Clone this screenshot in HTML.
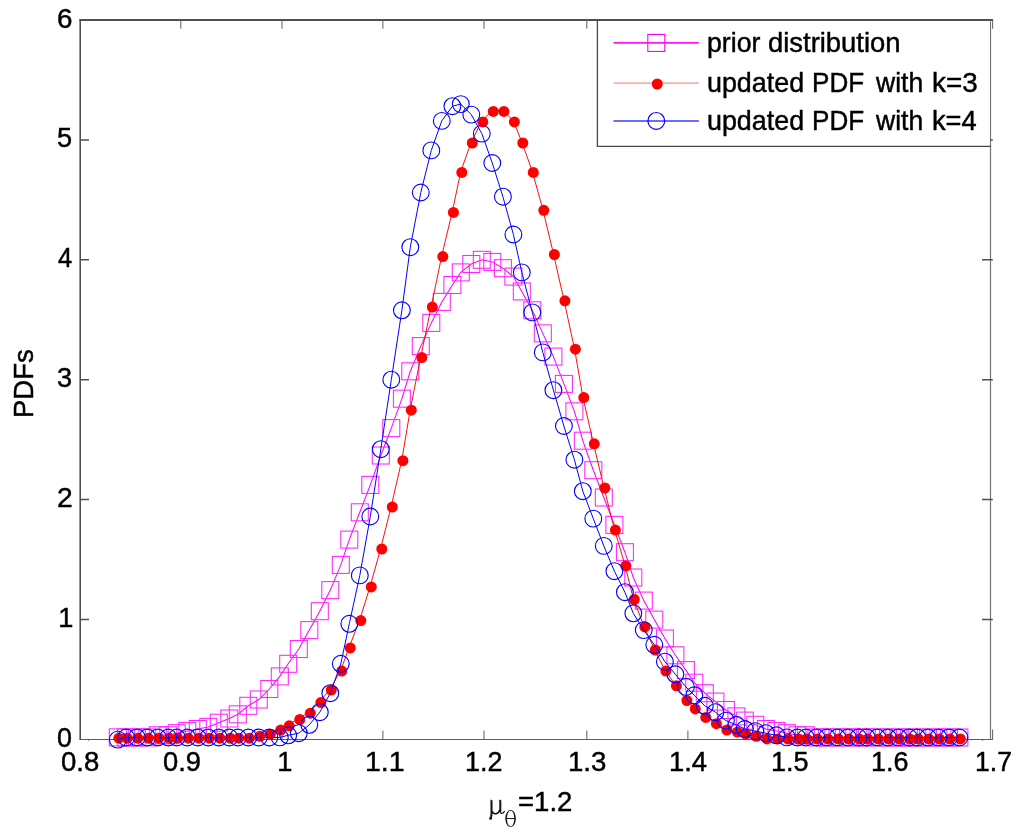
<!DOCTYPE html>
<html><head><meta charset="utf-8"><title>PDFs</title>
<style>
html,body{margin:0;padding:0;background:#fff;}
body{width:1024px;height:840px;position:relative;overflow:hidden;}
.t{position:absolute;font-family:"Liberation Sans",sans-serif;font-size:27.2px;line-height:1;color:#000;white-space:nowrap;-webkit-text-stroke:0.45px #000;font-kerning:none;font-variant-ligatures:none;transform-origin:0 0;}
.s{position:absolute;font-family:"Liberation Serif",serif;line-height:1;color:#1a1a1a;white-space:nowrap;}
</style></head><body>
<svg width="1024" height="840" viewBox="0 0 1024 840" style="position:absolute;left:0;top:0">
<path d="M79.4,20.0H993.1" stroke="#4f4f4f" stroke-width="2" fill="none"/>
<path d="M80.2,19.2V740" stroke="#505050" stroke-width="1.6" fill="none"/>
<path d="M79.6,739.45H993.1" stroke="#5c5c5c" stroke-width="1.15" fill="none"/>
<path d="M990.5,20V739.9" stroke="#747474" stroke-width="1.2" fill="none"/>
<path d="M80.2,619.5H89.0M982.0,619.5H992.8M80.2,499.6H89.0M982.0,499.6H992.8M80.2,379.7H89.0M982.0,379.7H992.8M80.2,259.8H89.0M982.0,259.8H992.8M80.2,139.9H89.0M982.0,139.9H992.8" stroke="#505050" stroke-width="1.5" fill="none"/>
<path d="M180.8,739.4v-8.8M180.8,20.0v8.8M282.0,739.4v-8.8M282.0,20.0v8.8M382.9,739.4v-8.8M382.9,20.0v8.8M484.0,739.4v-8.8M484.0,20.0v8.8M586.8,739.4v-8.8M586.8,20.0v8.8M687.9,739.4v-8.8M687.9,20.0v8.8M789.5,739.4v-8.8M789.5,20.0v8.8M891.0,739.4v-8.8M891.0,20.0v8.8M992.6,739.4v-10.0M992.6,20.0v8.8M88.55,739.4v1.4M982.45,739.4v1.4" stroke="#686868" stroke-width="1.05" fill="none"/>
<polyline points="117.8,737.4 126.2,737.4 136.8,737.4 147.3,737.4 157.8,735.3 168.3,735.3 176.7,733.2 187.3,731.1 197.8,729.0 208.3,726.9 218.8,722.7 229.3,718.5 237.8,714.3 248.3,705.8 258.8,699.5 269.3,689.0 279.8,676.4 288.2,663.8 298.8,649.0 309.3,630.1 319.8,611.2 330.3,590.1 340.8,564.9 349.3,539.6 359.8,512.3 370.3,484.9 380.8,455.5 391.3,428.1 401.9,398.7 410.3,371.3 420.8,346.1 431.3,322.9 441.8,301.9 452.4,285.0 460.8,272.4 471.3,264.0 481.8,259.8 492.3,261.9 502.9,268.2 513.4,276.6 521.8,291.4 532.3,310.3 542.8,333.4 553.4,356.6 563.9,383.9 574.4,411.3 582.8,440.7 593.3,470.2 603.8,497.5 614.4,524.9 624.9,552.2 633.3,577.5 643.8,600.6 654.3,619.6 664.9,638.5 675.4,655.3 685.9,670.1 694.3,682.7 704.8,693.2 715.4,701.6 725.9,710.0 736.4,716.4 744.8,720.6 755.3,724.8 765.9,729.0 776.4,731.1 786.9,733.2 797.4,735.3 805.8,735.3 816.4,737.4 826.9,737.4 837.4,737.4 847.9,737.4 858.4,737.4 866.8,737.4 877.4,737.4 887.9,737.5 898.4,737.5 908.9,737.5 917.3,737.5 927.9,737.5 938.4,737.5 948.9,737.5 959.4,737.5" fill="none" stroke="#ff00ff" stroke-width="1.05"/>
<g fill="none" stroke="#ff24ff" stroke-width="1.05">
<rect x="109.3" y="728.9" width="17.0" height="17.0"/>
<rect x="117.7" y="728.9" width="17.0" height="17.0"/>
<rect x="128.3" y="728.9" width="17.0" height="17.0"/>
<rect x="138.8" y="728.9" width="17.0" height="17.0"/>
<rect x="149.3" y="726.8" width="17.0" height="17.0"/>
<rect x="159.8" y="726.8" width="17.0" height="17.0"/>
<rect x="168.2" y="724.7" width="17.0" height="17.0"/>
<rect x="178.8" y="722.6" width="17.0" height="17.0"/>
<rect x="189.3" y="720.5" width="17.0" height="17.0"/>
<rect x="199.8" y="718.4" width="17.0" height="17.0"/>
<rect x="210.3" y="714.2" width="17.0" height="17.0"/>
<rect x="220.8" y="710.0" width="17.0" height="17.0"/>
<rect x="229.3" y="705.8" width="17.0" height="17.0"/>
<rect x="239.8" y="697.3" width="17.0" height="17.0"/>
<rect x="250.3" y="691.0" width="17.0" height="17.0"/>
<rect x="260.8" y="680.5" width="17.0" height="17.0"/>
<rect x="271.3" y="667.9" width="17.0" height="17.0"/>
<rect x="279.7" y="655.3" width="17.0" height="17.0"/>
<rect x="290.3" y="640.5" width="17.0" height="17.0"/>
<rect x="300.8" y="621.6" width="17.0" height="17.0"/>
<rect x="311.3" y="602.7" width="17.0" height="17.0"/>
<rect x="321.8" y="581.6" width="17.0" height="17.0"/>
<rect x="332.3" y="556.4" width="17.0" height="17.0"/>
<rect x="340.8" y="531.1" width="17.0" height="17.0"/>
<rect x="351.3" y="503.8" width="17.0" height="17.0"/>
<rect x="361.8" y="476.4" width="17.0" height="17.0"/>
<rect x="372.3" y="447.0" width="17.0" height="17.0"/>
<rect x="382.8" y="419.6" width="17.0" height="17.0"/>
<rect x="393.4" y="390.2" width="17.0" height="17.0"/>
<rect x="401.8" y="362.8" width="17.0" height="17.0"/>
<rect x="412.3" y="337.6" width="17.0" height="17.0"/>
<rect x="422.8" y="314.4" width="17.0" height="17.0"/>
<rect x="433.3" y="293.4" width="17.0" height="17.0"/>
<rect x="443.9" y="276.5" width="17.0" height="17.0"/>
<rect x="452.3" y="263.9" width="17.0" height="17.0"/>
<rect x="462.8" y="255.5" width="17.0" height="17.0"/>
<rect x="473.3" y="251.3" width="17.0" height="17.0"/>
<rect x="483.8" y="253.4" width="17.0" height="17.0"/>
<rect x="494.4" y="259.7" width="17.0" height="17.0"/>
<rect x="504.9" y="268.1" width="17.0" height="17.0"/>
<rect x="513.3" y="282.9" width="17.0" height="17.0"/>
<rect x="523.8" y="301.8" width="17.0" height="17.0"/>
<rect x="534.3" y="324.9" width="17.0" height="17.0"/>
<rect x="544.9" y="348.1" width="17.0" height="17.0"/>
<rect x="555.4" y="375.4" width="17.0" height="17.0"/>
<rect x="565.9" y="402.8" width="17.0" height="17.0"/>
<rect x="574.3" y="432.2" width="17.0" height="17.0"/>
<rect x="584.8" y="461.7" width="17.0" height="17.0"/>
<rect x="595.3" y="489.0" width="17.0" height="17.0"/>
<rect x="605.9" y="516.4" width="17.0" height="17.0"/>
<rect x="616.4" y="543.7" width="17.0" height="17.0"/>
<rect x="624.8" y="569.0" width="17.0" height="17.0"/>
<rect x="635.3" y="592.1" width="17.0" height="17.0"/>
<rect x="645.8" y="611.1" width="17.0" height="17.0"/>
<rect x="656.4" y="630.0" width="17.0" height="17.0"/>
<rect x="666.9" y="646.8" width="17.0" height="17.0"/>
<rect x="677.4" y="661.6" width="17.0" height="17.0"/>
<rect x="685.8" y="674.2" width="17.0" height="17.0"/>
<rect x="696.3" y="684.7" width="17.0" height="17.0"/>
<rect x="706.9" y="693.1" width="17.0" height="17.0"/>
<rect x="717.4" y="701.5" width="17.0" height="17.0"/>
<rect x="727.9" y="707.9" width="17.0" height="17.0"/>
<rect x="736.3" y="712.1" width="17.0" height="17.0"/>
<rect x="746.8" y="716.3" width="17.0" height="17.0"/>
<rect x="757.4" y="720.5" width="17.0" height="17.0"/>
<rect x="767.9" y="722.6" width="17.0" height="17.0"/>
<rect x="778.4" y="724.7" width="17.0" height="17.0"/>
<rect x="788.9" y="726.8" width="17.0" height="17.0"/>
<rect x="797.3" y="726.8" width="17.0" height="17.0"/>
<rect x="807.9" y="728.9" width="17.0" height="17.0"/>
<rect x="818.4" y="728.9" width="17.0" height="17.0"/>
<rect x="828.9" y="728.9" width="17.0" height="17.0"/>
<rect x="839.4" y="728.9" width="17.0" height="17.0"/>
<rect x="849.9" y="728.9" width="17.0" height="17.0"/>
<rect x="858.3" y="728.9" width="17.0" height="17.0"/>
<rect x="868.9" y="728.9" width="17.0" height="17.0"/>
<rect x="879.4" y="729.0" width="17.0" height="17.0"/>
<rect x="889.9" y="729.0" width="17.0" height="17.0"/>
<rect x="900.4" y="729.0" width="17.0" height="17.0"/>
<rect x="908.8" y="729.0" width="17.0" height="17.0"/>
<rect x="919.4" y="729.0" width="17.0" height="17.0"/>
<rect x="929.9" y="729.0" width="17.0" height="17.0"/>
<rect x="940.4" y="729.0" width="17.0" height="17.0"/>
<rect x="950.9" y="729.0" width="17.0" height="17.0"/>
</g>
<polyline points="117.8,737.5 126.2,737.5 136.8,737.5 147.3,737.5 157.8,737.5 168.3,737.5 176.7,737.5 187.3,737.5 197.8,737.5 208.3,737.5 218.8,737.5 229.3,737.5 237.8,737.5 248.3,737.5 258.8,735.3 269.3,733.2 279.8,729.0 288.2,724.8 298.8,718.5 309.3,712.2 319.8,701.6 330.3,689.0 340.8,670.1 349.3,646.9 359.8,619.6 370.3,585.9 380.8,548.0 391.3,506.0 401.9,459.7 410.3,409.2 420.8,356.6 431.3,306.1 441.8,255.6 452.4,211.4 460.8,171.4 471.3,142.0 481.8,120.9 492.3,110.4 502.9,110.4 513.4,120.9 521.8,142.0 532.3,171.4 542.8,209.3 553.4,253.5 563.9,299.8 574.4,348.2 582.8,396.6 593.3,442.8 603.8,487.0 614.4,529.1 624.9,564.9 633.3,598.5 643.8,625.9 654.3,649.0 664.9,670.1 675.4,684.8 685.9,699.5 694.3,707.9 704.8,716.4 715.4,722.7 725.9,729.0 736.4,731.1 744.8,733.2 755.3,735.3 765.9,737.5 776.4,737.5 786.9,737.5 797.4,737.5 805.8,737.5 816.4,737.5 826.9,737.5 837.4,737.5 847.9,737.5 858.4,737.5 866.8,737.5 877.4,737.5 887.9,737.5 898.4,737.5 908.9,737.5 917.3,737.5 927.9,737.5 938.4,737.5 948.9,737.5 959.4,737.5" fill="none" stroke="#ff0000" stroke-width="0.95"/>
<g fill="#ff0000">
<circle cx="118.8" cy="738.2" r="5.5"/>
<circle cx="127.2" cy="738.2" r="5.5"/>
<circle cx="137.8" cy="738.2" r="5.5"/>
<circle cx="148.3" cy="738.2" r="5.5"/>
<circle cx="158.8" cy="738.2" r="5.5"/>
<circle cx="169.3" cy="738.2" r="5.5"/>
<circle cx="177.7" cy="738.2" r="5.5"/>
<circle cx="188.3" cy="738.2" r="5.5"/>
<circle cx="198.8" cy="738.2" r="5.5"/>
<circle cx="209.3" cy="738.2" r="5.5"/>
<circle cx="219.8" cy="738.2" r="5.5"/>
<circle cx="230.3" cy="738.2" r="5.5"/>
<circle cx="238.8" cy="738.2" r="5.5"/>
<circle cx="249.3" cy="738.2" r="5.5"/>
<circle cx="259.8" cy="736.3" r="5.5"/>
<circle cx="270.3" cy="734.2" r="5.5"/>
<circle cx="280.8" cy="730.0" r="5.5"/>
<circle cx="289.2" cy="725.8" r="5.5"/>
<circle cx="299.8" cy="719.5" r="5.5"/>
<circle cx="310.3" cy="713.2" r="5.5"/>
<circle cx="320.8" cy="702.6" r="5.5"/>
<circle cx="331.3" cy="690.0" r="5.5"/>
<circle cx="341.8" cy="671.1" r="5.5"/>
<circle cx="350.3" cy="647.9" r="5.5"/>
<circle cx="360.8" cy="620.6" r="5.5"/>
<circle cx="371.3" cy="586.9" r="5.5"/>
<circle cx="381.8" cy="549.0" r="5.5"/>
<circle cx="392.3" cy="507.0" r="5.5"/>
<circle cx="402.9" cy="460.7" r="5.5"/>
<circle cx="411.3" cy="410.2" r="5.5"/>
<circle cx="421.8" cy="357.6" r="5.5"/>
<circle cx="432.3" cy="307.1" r="5.5"/>
<circle cx="442.8" cy="256.6" r="5.5"/>
<circle cx="453.4" cy="212.4" r="5.5"/>
<circle cx="461.8" cy="172.4" r="5.5"/>
<circle cx="472.3" cy="143.0" r="5.5"/>
<circle cx="482.8" cy="121.9" r="5.5"/>
<circle cx="493.3" cy="111.4" r="5.5"/>
<circle cx="503.9" cy="111.4" r="5.5"/>
<circle cx="514.4" cy="121.9" r="5.5"/>
<circle cx="522.8" cy="143.0" r="5.5"/>
<circle cx="533.3" cy="172.4" r="5.5"/>
<circle cx="543.8" cy="210.3" r="5.5"/>
<circle cx="554.4" cy="254.5" r="5.5"/>
<circle cx="564.9" cy="300.8" r="5.5"/>
<circle cx="575.4" cy="349.2" r="5.5"/>
<circle cx="583.8" cy="397.6" r="5.5"/>
<circle cx="594.3" cy="443.8" r="5.5"/>
<circle cx="604.8" cy="488.0" r="5.5"/>
<circle cx="615.4" cy="530.1" r="5.5"/>
<circle cx="625.9" cy="565.9" r="5.5"/>
<circle cx="634.3" cy="599.5" r="5.5"/>
<circle cx="644.8" cy="626.9" r="5.5"/>
<circle cx="655.3" cy="650.0" r="5.5"/>
<circle cx="665.9" cy="671.1" r="5.5"/>
<circle cx="676.4" cy="685.8" r="5.5"/>
<circle cx="686.9" cy="700.5" r="5.5"/>
<circle cx="695.3" cy="708.9" r="5.5"/>
<circle cx="705.8" cy="717.4" r="5.5"/>
<circle cx="716.4" cy="723.7" r="5.5"/>
<circle cx="726.9" cy="730.0" r="5.5"/>
<circle cx="737.4" cy="732.1" r="5.5"/>
<circle cx="745.8" cy="734.2" r="5.5"/>
<circle cx="756.3" cy="736.3" r="5.5"/>
<circle cx="766.9" cy="738.9" r="5.5"/>
<circle cx="777.4" cy="738.9" r="5.5"/>
<circle cx="787.9" cy="738.9" r="5.5"/>
<circle cx="798.4" cy="738.9" r="5.5"/>
<circle cx="806.8" cy="738.9" r="5.5"/>
<circle cx="817.4" cy="738.9" r="5.5"/>
<circle cx="827.9" cy="738.9" r="5.5"/>
<circle cx="838.4" cy="738.9" r="5.5"/>
<circle cx="848.9" cy="738.9" r="5.5"/>
<circle cx="859.4" cy="738.9" r="5.5"/>
<circle cx="867.8" cy="738.9" r="5.5"/>
<circle cx="878.4" cy="738.9" r="5.5"/>
<circle cx="888.9" cy="738.9" r="5.5"/>
<circle cx="899.4" cy="738.9" r="5.5"/>
<circle cx="909.9" cy="738.9" r="5.5"/>
<circle cx="918.3" cy="738.9" r="5.5"/>
<circle cx="928.9" cy="738.9" r="5.5"/>
<circle cx="939.4" cy="738.9" r="5.5"/>
<circle cx="949.9" cy="738.9" r="5.5"/>
<circle cx="960.4" cy="738.9" r="5.5"/>
</g>
<polyline points="117.8,739.6 126.2,737.5 136.8,737.5 147.3,737.5 157.8,737.5 168.3,737.5 176.7,737.5 187.3,737.5 197.8,737.5 208.3,737.5 218.8,737.5 229.3,737.5 237.8,737.5 248.3,737.5 258.8,737.5 269.3,737.5 279.8,737.4 288.2,735.3 298.8,733.2 309.3,724.8 319.8,712.2 330.3,693.2 340.8,663.8 349.3,623.8 359.8,575.4 370.3,516.5 380.8,449.2 391.3,379.7 401.9,310.3 410.3,247.2 420.8,192.5 431.3,150.4 441.8,120.9 452.4,106.2 460.8,104.1 471.3,114.6 481.8,133.6 492.3,163.0 502.9,196.7 513.4,234.5 521.8,272.4 532.3,312.4 542.8,352.4 553.4,390.2 563.9,426.0 574.4,459.7 582.8,491.2 593.3,518.6 603.8,545.9 614.4,571.2 624.9,592.2 633.3,613.3 643.8,630.1 654.3,644.8 664.9,661.7 675.4,674.3 685.9,686.9 694.3,695.3 704.8,705.8 715.4,712.2 725.9,720.6 736.4,724.8 744.8,729.0 755.3,731.1 765.9,733.2 776.4,735.3 786.9,737.4 797.4,737.5 805.8,737.5 816.4,737.5 826.9,737.5 837.4,737.5 847.9,737.5 858.4,737.5 866.8,737.5 877.4,737.5 887.9,737.5 898.4,737.5 908.9,737.5 917.3,737.5 927.9,737.5 938.4,737.5 948.9,737.5 959.4,737.5" fill="none" stroke="#0000ff" stroke-width="1.0"/>
<g fill="none" stroke="#0000ff" stroke-width="1.12">
<circle cx="117.8" cy="739.6" r="8.4"/>
<circle cx="126.2" cy="737.5" r="8.4"/>
<circle cx="136.8" cy="737.5" r="8.4"/>
<circle cx="147.3" cy="737.5" r="8.4"/>
<circle cx="157.8" cy="737.5" r="8.4"/>
<circle cx="168.3" cy="737.5" r="8.4"/>
<circle cx="176.7" cy="737.5" r="8.4"/>
<circle cx="187.3" cy="737.5" r="8.4"/>
<circle cx="197.8" cy="737.5" r="8.4"/>
<circle cx="208.3" cy="737.5" r="8.4"/>
<circle cx="218.8" cy="737.5" r="8.4"/>
<circle cx="229.3" cy="737.5" r="8.4"/>
<circle cx="237.8" cy="737.5" r="8.4"/>
<circle cx="248.3" cy="737.5" r="8.4"/>
<circle cx="258.8" cy="737.5" r="8.4"/>
<circle cx="269.3" cy="737.5" r="8.4"/>
<circle cx="279.8" cy="737.4" r="8.4"/>
<circle cx="288.2" cy="735.3" r="8.4"/>
<circle cx="298.8" cy="733.2" r="8.4"/>
<circle cx="309.3" cy="724.8" r="8.4"/>
<circle cx="319.8" cy="712.2" r="8.4"/>
<circle cx="330.3" cy="693.2" r="8.4"/>
<circle cx="340.8" cy="663.8" r="8.4"/>
<circle cx="349.3" cy="623.8" r="8.4"/>
<circle cx="359.8" cy="575.4" r="8.4"/>
<circle cx="370.3" cy="516.5" r="8.4"/>
<circle cx="380.8" cy="449.2" r="8.4"/>
<circle cx="391.3" cy="379.7" r="8.4"/>
<circle cx="401.9" cy="310.3" r="8.4"/>
<circle cx="410.3" cy="247.2" r="8.4"/>
<circle cx="420.8" cy="192.5" r="8.4"/>
<circle cx="431.3" cy="150.4" r="8.4"/>
<circle cx="441.8" cy="120.9" r="8.4"/>
<circle cx="452.4" cy="106.2" r="8.4"/>
<circle cx="460.8" cy="104.1" r="8.4"/>
<circle cx="471.3" cy="114.6" r="8.4"/>
<circle cx="481.8" cy="133.6" r="8.4"/>
<circle cx="492.3" cy="163.0" r="8.4"/>
<circle cx="502.9" cy="196.7" r="8.4"/>
<circle cx="513.4" cy="234.5" r="8.4"/>
<circle cx="521.8" cy="272.4" r="8.4"/>
<circle cx="532.3" cy="312.4" r="8.4"/>
<circle cx="542.8" cy="352.4" r="8.4"/>
<circle cx="553.4" cy="390.2" r="8.4"/>
<circle cx="563.9" cy="426.0" r="8.4"/>
<circle cx="574.4" cy="459.7" r="8.4"/>
<circle cx="582.8" cy="491.2" r="8.4"/>
<circle cx="593.3" cy="518.6" r="8.4"/>
<circle cx="603.8" cy="545.9" r="8.4"/>
<circle cx="614.4" cy="571.2" r="8.4"/>
<circle cx="624.9" cy="592.2" r="8.4"/>
<circle cx="633.3" cy="613.3" r="8.4"/>
<circle cx="643.8" cy="630.1" r="8.4"/>
<circle cx="654.3" cy="644.8" r="8.4"/>
<circle cx="664.9" cy="661.7" r="8.4"/>
<circle cx="675.4" cy="674.3" r="8.4"/>
<circle cx="685.9" cy="686.9" r="8.4"/>
<circle cx="694.3" cy="695.3" r="8.4"/>
<circle cx="704.8" cy="705.8" r="8.4"/>
<circle cx="715.4" cy="712.2" r="8.4"/>
<circle cx="725.9" cy="720.6" r="8.4"/>
<circle cx="736.4" cy="724.8" r="8.4"/>
<circle cx="744.8" cy="729.0" r="8.4"/>
<circle cx="755.3" cy="731.1" r="8.4"/>
<circle cx="765.9" cy="733.2" r="8.4"/>
<circle cx="776.4" cy="735.3" r="8.4"/>
<circle cx="786.9" cy="737.4" r="8.4"/>
<circle cx="797.4" cy="737.5" r="8.4"/>
<circle cx="805.8" cy="737.5" r="8.4"/>
<circle cx="816.4" cy="737.5" r="8.4"/>
<circle cx="826.9" cy="737.5" r="8.4"/>
<circle cx="837.4" cy="737.5" r="8.4"/>
<circle cx="847.9" cy="737.5" r="8.4"/>
<circle cx="858.4" cy="737.5" r="8.4"/>
<circle cx="866.8" cy="737.5" r="8.4"/>
<circle cx="877.4" cy="737.5" r="8.4"/>
<circle cx="887.9" cy="737.5" r="8.4"/>
<circle cx="898.4" cy="737.5" r="8.4"/>
<circle cx="908.9" cy="737.5" r="8.4"/>
<circle cx="917.3" cy="737.5" r="8.4"/>
<circle cx="927.9" cy="737.5" r="8.4"/>
<circle cx="938.4" cy="737.5" r="8.4"/>
<circle cx="948.9" cy="737.5" r="8.4"/>
<circle cx="959.4" cy="737.5" r="8.4"/>
</g>
<rect x="597.4" y="21" width="392.5" height="125.3" fill="#fff"/>
<path d="M597.4,20V146.35H991.1" fill="none" stroke="#484848" stroke-width="1.3"/>
<path d="M613.5,42.9H698.8" stroke="#ff12ff" stroke-width="1.7"/>
<rect x="647.80" y="34.45" width="17.0" height="17.0" fill="none" stroke="#ff00ff" stroke-width="1.1"/>
<path d="M613.5,83.1H698.8" stroke="#ff8c8c" stroke-width="1.05"/>
<circle cx="657.25" cy="84.0" r="5.5" fill="#ff0000"/>
<path d="M613.5,121.0H698.8" stroke="#3a3aff" stroke-width="1.6"/>
<circle cx="656.3" cy="120.9" r="8.4" fill="none" stroke="#0000ff" stroke-width="1.2"/>
<g aria-label="mu theta" fill="none" stroke="#111" stroke-linecap="butt">
<path d="M491.5,800.2V813.4C491.5,815.4 491.3,816.5 490.8,817.6" stroke-width="2"/>
<circle cx="490.6" cy="818.4" r="1.45" fill="#111" stroke="none"/>
<path d="M492.2,811.3C492.9,813.5 494.5,814 496,813.7C497.9,813.3 499.3,811.8 499.7,809.8" stroke-width="1.5"/>
<path d="M500.3,800.2V811.9" stroke-width="2"/>
<path d="M500.3,810.8C500.3,814.2 502.4,814.4 504.7,811.2" stroke-width="1.15"/>
<path d="M491.4,800.2h-1.3M500.2,800.2h-1.3" stroke-width="0.7"/>
</g>
<path fill="#1a1a1a" fill-rule="evenodd" d="M510.6,810.1C513.8,810.1 515.85,813.9 515.85,818.5C515.85,823.1 513.8,826.9 510.6,826.9C507.4,826.9 505.35,823.1 505.35,818.5C505.35,813.9 507.4,810.1 510.6,810.1ZM510.6,810.8C508.6,810.8 507.1,813.6 507.0,818.1H514.2C514.1,813.6 512.6,810.8 510.6,810.8ZM507.0,818.9C507.1,823.4 508.6,826.2 510.6,826.2C512.6,826.2 514.1,823.4 514.2,818.9Z"/>
</svg>
<div id="labels" style="position:absolute;left:0;top:0;width:1024px;height:840px;will-change:transform"><div class="t" style="left:706.60px;top:29.18px;transform:scaleX(0.9816)">prior</div><div class="t" style="left:767.57px;top:29.18px;transform:scaleX(1.0079)">distribution</div><div class="t" style="left:706.58px;top:69.28px;transform:scaleX(0.9879)">updated</div><div class="t" style="left:812.49px;top:69.28px;transform:scaleX(0.9583)">PDF</div><div class="t" style="left:876.16px;top:69.28px;transform:scaleX(0.9744)">with</div><div class="t" style="left:932.45px;top:69.28px;transform:scaleX(1.0232)">k=3</div><div class="t" style="left:706.58px;top:107.38px;transform:scaleX(0.9879)">updated</div><div class="t" style="left:812.49px;top:107.38px;transform:scaleX(0.9583)">PDF</div><div class="t" style="left:876.16px;top:107.38px;transform:scaleX(0.9744)">with</div><div class="t" style="left:932.49px;top:107.38px;transform:scaleX(1.0016)">k=4</div><div class="t" style="left:61.35px;top:747.78px;transform:scaleX(1.0136)">0.8</div><div class="t" style="left:162.56px;top:747.78px;transform:scaleX(1.0053)">0.9</div><div class="t" style="left:277.23px;top:747.78px;transform:scaleX(1.0000)">1</div><div class="t" style="left:364.68px;top:747.78px;transform:scaleX(1.0491)">1.1</div><div class="t" style="left:465.14px;top:747.78px;transform:scaleX(0.9888)">1.2</div><div class="t" style="left:568.27px;top:747.78px;transform:scaleX(1.0162)">1.3</div><div class="t" style="left:669.29px;top:747.78px;transform:scaleX(1.0073)">1.4</div><div class="t" style="left:770.92px;top:747.78px;transform:scaleX(0.9940)">1.5</div><div class="t" style="left:871.33px;top:747.78px;transform:scaleX(0.9926)">1.6</div><div class="t" style="left:974.57px;top:747.78px;transform:scaleX(0.9770)">1.7</div><div class="t" style="left:57.17px;top:723.98px;transform:scaleX(0.9883)">0</div><div class="t" style="left:58.33px;top:604.08px;transform:scaleX(1.0000)">1</div><div class="t" style="left:56.81px;top:484.18px;transform:scaleX(1.0370)">2</div><div class="t" style="left:57.19px;top:364.28px;transform:scaleX(0.9964)">3</div><div class="t" style="left:57.64px;top:244.38px;transform:scaleX(0.9375)">4</div><div class="t" style="left:57.14px;top:124.48px;transform:scaleX(0.9964)">5</div><div class="t" style="left:56.81px;top:4.58px;transform:scaleX(1.0238)">6</div><div class="t" style="left:517.68px;top:787.58px;transform:scaleX(1.0127)">=1.2</div><div class="t" style="left:10.18px;top:417.93px;transform:rotate(-90deg) scaleX(1.0103)">PDFs</div></div>
</body></html>
